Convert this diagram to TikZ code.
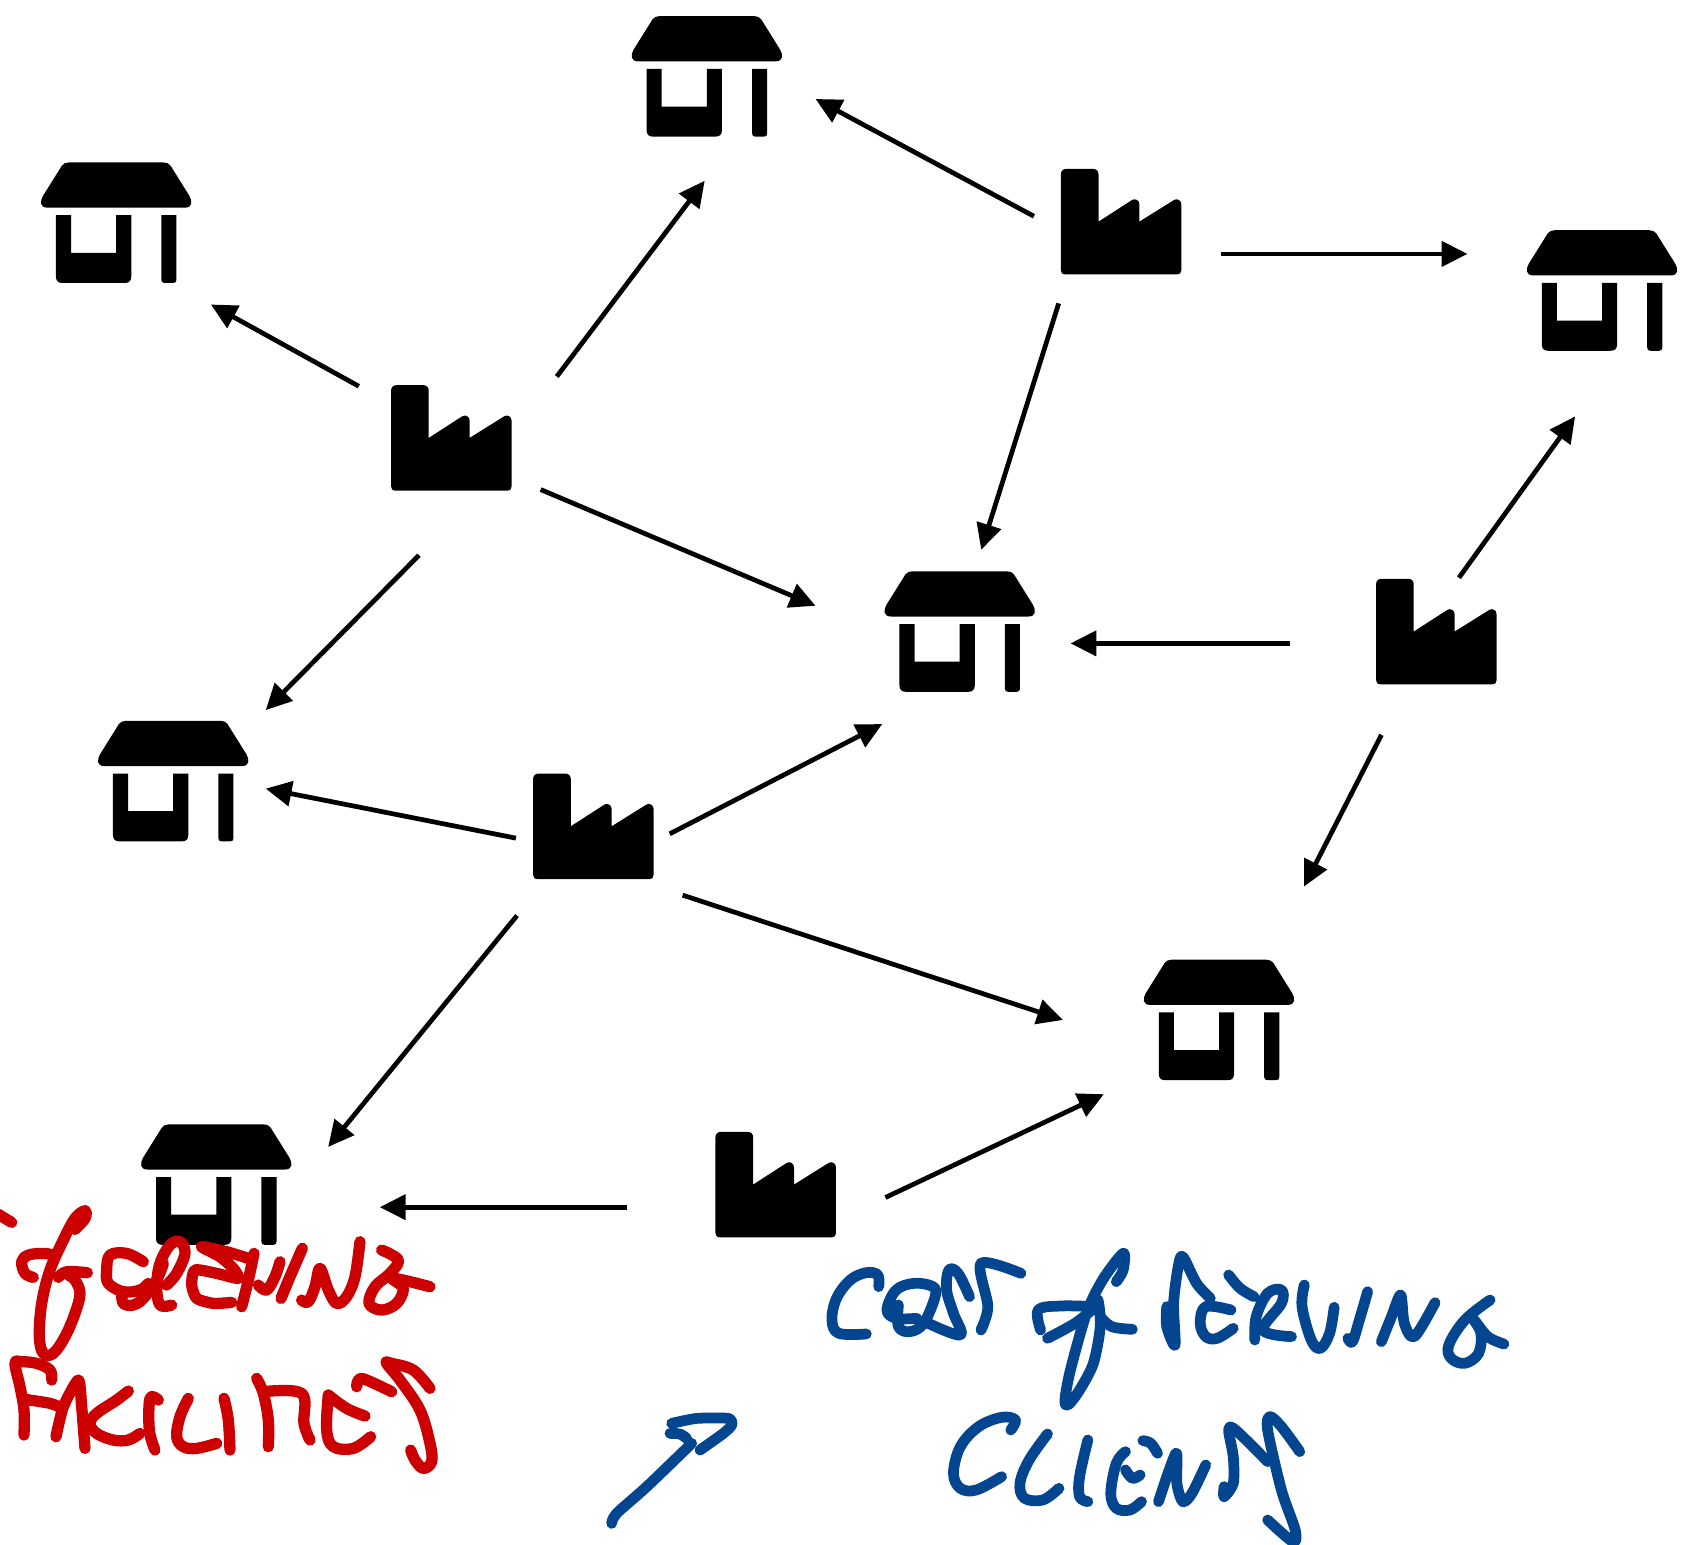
\documentclass[tikz,border=0pt]{standalone}
\usetikzlibrary{arrows.meta}
\definecolor{inkred}{RGB}{204,0,0}
\definecolor{inkblue}{RGB}{3,70,143}
\tikzset{
  x=1pt,y=-1pt,
  icon/.style={inner sep=0pt,outer sep=0pt,minimum width=112pt,minimum height=98pt},
  link/.style={line width=4.4pt,-{Triangle[length=24pt 0 0,width=23pt 0 0]}},
  redink/.style={line width=10.5pt,inkred,line cap=round,line join=round},
  blueink/.style={line width=10pt,inkblue,line cap=round,line join=round},
  pics/storeicon/.style={code={
    \fill (-44,-56) -- (44,-56) .. controls (47,-56) and (49,-55) .. (50.5,-53) -- (68,-25) .. controls (71,-20) and (71,-14) .. (64,-14) -- (-64,-14) .. controls (-71,-14) and (-71,-20) .. (-68,-25) -- (-50.5,-53) .. controls (-49,-55) and (-47,-56) .. (-44,-56) -- cycle;
    \fill (-56,-7) -- (-56,50) .. controls (-56,54) and (-54,56) .. (-50,56) -- (8,56) .. controls (12,56) and (14,54) .. (14,50) -- (14,-7) -- (0,-7) -- (0,28) -- (-42,28) -- (-42,-7) -- cycle;
    \fill (42,-7) -- (56,-7) -- (56,53) .. controls (56,55) and (55,56) .. (53,56) -- (45,56) .. controls (43,56) and (42,55) .. (42,53) -- cycle;
  }},
  pics/factoryicon/.style={code={
    \fill (-52,49) .. controls (-55,49) and (-56,47) .. (-56,45) -- (-56,-44) .. controls (-56,-47) and (-54,-49) .. (-51,-49) -- (-26,-49) .. controls (-23,-49) and (-21,-47) .. (-21,-44) -- (-21,0) -- (10,-20) .. controls (13,-22) and (17,-20) .. (17,-16) -- (17,0) -- (49,-20) .. controls (52,-22) and (56,-20) .. (56,-16) -- (56,45) .. controls (56,47) and (55,49) .. (52,49) -- cycle;
  }},
}
\newcommand{\store}[3]{\node[icon] (#1) at (#2,#3) {}; \pic at (#1.center) {storeicon};}
\newcommand{\factory}[3]{\node[icon] (#1) at (#2,#3) {}; \pic at (#1.center) {factoryicon};}
\newcommand{\linkup}[6]{\draw[link] ([shift={(#3,#4)}]#1.center) -- ([shift={(#5,#6)}]#2.center);}
\begin{document}
\begin{tikzpicture}
\fill[white] (0,0) rectangle (1568,1436);
\useasboundingbox (0,0) rectangle (1568,1436);
\store{S1}{657}{71}
\store{S2}{108}{207}
\store{S3}{1489}{270}
\store{S4}{892}{587}
\store{S5}{161}{726}
\store{S6}{1133}{948}
\store{S7}{201}{1101}
\factory{F1}{1042}{206}
\factory{F2}{419.5}{407}
\factory{F3}{1335}{587}
\factory{F4}{551.5}{768}
\factory{F5}{721}{1101}
\linkup{F1}{S1}{-81}{-5}{101}{21}
\linkup{F1}{S3}{93}{30}{-125}{-34}
\linkup{F1}{S4}{-58}{76}{20}{-76}
\linkup{F2}{S2}{-86}{-48}{88}{76}
\linkup{F2}{S1}{98}{-57}{-2}{97}
\linkup{F2}{S4}{83}{48}{-134}{-24}
\linkup{F2}{S5}{-30}{109}{86}{-66}
\linkup{F3}{S3}{21}{-50}{-25}{117}
\linkup{F3}{S4}{-136}{11}{103}{11}
\linkup{F3}{S6}{-51}{96}{79}{-124}
\linkup{F4}{S4}{71}{7}{-72}{86}
\linkup{F4}{S5}{-72}{11}{86}{7}
\linkup{F4}{S6}{83}{64}{-145}{0}
\linkup{F4}{S7}{-71}{83}{104}{-35}
\linkup{F5}{S6}{102}{12}{-107}{69}
\linkup{F5}{S7}{-138}{21}{152}{21}
% red handwriting
\begin{scope}[shift={(0,1106.1)},x=.3098pt,y=-.3098pt,redink]
\draw (-10,70) -- (35,97);
\draw plot[smooth,tension=.6] coordinates {(225,118)(255,85)(255,62)(225,85)(190,150)(150,240)(125,340)(118,440)(130,490)(160,490)(195,440)(225,370)(240,310)(225,270)(205,255)};
\draw plot[smooth,tension=.6] coordinates {(100,262)(75,250)(65,215)(85,195)(130,190)(160,195)};
\draw plot[smooth,tension=.6] coordinates {(175,262)(200,245)(262,248)};
\draw plot[smooth,tension=.6] coordinates {(430,215)(380,190)(330,195)(320,240)(325,280)(370,305)(420,300)(445,280)};
\draw plot[smooth,tension=.6] coordinates {(365,310)(370,340)(400,345)(430,325)(470,270)(490,220)};
\draw plot[smooth,tension=.6] coordinates {(515,345)(480,345)(470,290)(480,220)(510,165)(540,155)(555,190)(530,250)(500,285)};
\draw plot[smooth,tension=.4] coordinates {(695,337)(640,340)(590,325)(575,285)(585,240)(650,250)(715,265)(700,235)(660,200)(605,170)(680,185)(745,205)};
\draw plot[smooth,tension=.6] coordinates {(762,190)(745,270)(725,350)};
\draw plot[smooth,tension=.6] coordinates {(775,285)(800,300)(825,260)(840,215)};
\draw plot[smooth,tension=.6] coordinates {(907,175)(870,260)(843,325)};
\draw plot[smooth,tension=.6] coordinates {(905,330)(925,335)(945,290)(960,235)(985,300)(1010,340)(1040,320)(1065,260)(1080,155)};
\draw plot[smooth,tension=.6] coordinates {(1145,180)(1195,210)(1170,250)(1125,290)(1107,340)(1145,360)(1190,340)(1210,295)(1180,265)(1290,290)};
\draw plot[smooth,tension=.6] coordinates {(155,570)(150,540)(110,520)(65,515)(45,520)(60,590)(72,660)(72,735)};
\draw plot[smooth,tension=.6] coordinates {(75,628)(150,640)(180,652)};
\draw plot[smooth,tension=.4] coordinates {(168,740)(190,650)(235,570)(245,650)(255,775)};
\draw plot[smooth,tension=.6] coordinates {(385,603)(350,630)(290,670)(270,700)(290,730)(340,750)(385,750)(420,730)};
\draw plot[smooth,tension=.6] coordinates {(475,630)(450,625)(448,720)(465,780)};
\draw plot[smooth,tension=.6] coordinates {(565,625)(540,680)(530,740)(550,770)(590,775)(650,760)};
\draw plot[smooth,tension=.6] coordinates {(672,625)(685,690)(690,780)};
\draw plot[smooth,tension=.6] coordinates {(770,565)(790,610)(805,690)(805,770)};
\draw plot[smooth,tension=.6] coordinates {(790,605)(905,610)(912,700)(930,750)};
\draw plot[smooth,tension=.6] coordinates {(985,615)(1040,655)(1095,678)};
\draw plot[smooth,tension=.6] coordinates {(985,615)(980,720)(1000,770)(1060,775)(1112,740)};
\draw plot[smooth,tension=.5] coordinates {(1070,590)(1085,565)(1175,605)};
\draw plot[smooth,tension=.6] coordinates {(1290,595)(1240,540)(1175,520)(1160,520)(1200,570)(1260,660)(1290,760)(1295,815)(1270,835)(1245,810)(1232,780)};
\end{scope}
% blue handwriting
\begin{scope}[shift={(743.4,1143.2)},x=.4263pt,y=-.3098pt,blueink]
\draw plot[smooth,tension=.6] coordinates {(172,170)(170,135)(145,128)(110,150)(80,205)(70,270)(85,310)(145,312)};
\draw plot[smooth,tension=.6] coordinates {(215,225)(215,290)(240,305)(270,280)(295,200)(290,170)(250,160)(210,180)(190,240)(210,265)(255,265)};
\draw plot[smooth,tension=.6] coordinates {(370,200)(345,130)(325,120)(320,180)(335,250)(350,315)(280,280)};
\draw plot[smooth,tension=.5] coordinates {(395,300)(410,230)(395,100)(482,130)};
\draw plot[smooth,tension=.5] coordinates {(540,325)(600,280)(640,235)(650,210)(655,290)(640,400)(610,480)(585,525)(578,510)(590,420)(625,250)(660,150)(705,70)(705,120)(690,155)};
\draw plot[smooth,tension=.6] coordinates {(640,230)(570,228)(520,240)(525,300)};
\draw plot[smooth,tension=.6] coordinates {(655,260)(680,290)(725,298)};
\draw plot[smooth,tension=.5] coordinates {(800,230)(800,290)(818,345)(815,220)(825,110)(835,80)(865,160)(895,205)};
\draw plot[smooth,tension=.6] coordinates {(940,240)(885,230)(873,280)(885,320)(910,325)(945,295)};
\draw plot[smooth,tension=.6] coordinates {(935,135)(960,175)(990,200)};
\draw plot[smooth,tension=.6] coordinates {(992,330)(995,260)(1020,190)(1050,180)(1050,220)(1010,300)(1072,320)};
\draw plot[smooth,tension=.6] coordinates {(1100,165)(1095,230)(1115,330)(1135,355)(1155,310)(1165,232)};
\draw plot[smooth,tension=.6] coordinates {(1238,185)(1220,270)(1205,335)(1195,325)};
\draw plot[smooth,tension=.5] coordinates {(1268,335)(1290,260)(1310,195)(1318,280)(1340,320)(1385,218)};
\draw plot[smooth,tension=.6] coordinates {(1505,210)(1450,270)(1415,345)(1420,385)(1450,400)(1480,370)(1485,310)(1470,270)(1500,320)(1535,342)};
\draw plot[smooth,tension=.6] coordinates {(460,600)(470,570)(440,562)(390,590)(350,650)(335,730)(350,775)(385,780)(440,740)};
\draw plot[smooth,tension=.6] coordinates {(540,612)(500,690)(480,760)(490,805)(530,810)(565,775)};
\draw plot[smooth,tension=.6] coordinates {(628,630)(610,740)(610,800)(628,815)};
\draw plot[smooth,tension=.6] coordinates {(748,632)(765,640)(780,670)};
\draw plot[smooth,tension=.6] coordinates {(710,665)(690,700)(678,790)(690,835)(720,840)(745,815)};
\draw plot[smooth,tension=.6] coordinates {(710,720)(725,745)(742,735)};
\draw plot[smooth,tension=.5] coordinates {(782,815)(820,670)(822,760)(835,815)(855,790)(885,705)};
\draw plot[smooth,tension=.5] coordinates {(925,770)(925,800)(945,760)(945,680)(935,600)(950,600)(1020,695)};
\draw plot[smooth,tension=.5] coordinates {(1090,665)(1050,590)(1025,560)(1020,600)(1050,780)(1080,900)(1075,935)(1020,870)};
\end{scope}
% blue arrow
\begin{scope}[shift={(539.1,1292)},x=.3098pt,y=-.3098pt,blueink]
\draw plot[smooth,tension=.5] coordinates {(95,400)(110,370)(200,290)(335,160)};
\draw plot[smooth,tension=.4] coordinates {(275,100)(350,85)(445,85)(455,105)(430,130)(360,180)};
\draw plot[smooth,tension=.5] coordinates {(270,130)(300,132)(320,145)};
\end{scope}
\end{tikzpicture}
\end{document}
